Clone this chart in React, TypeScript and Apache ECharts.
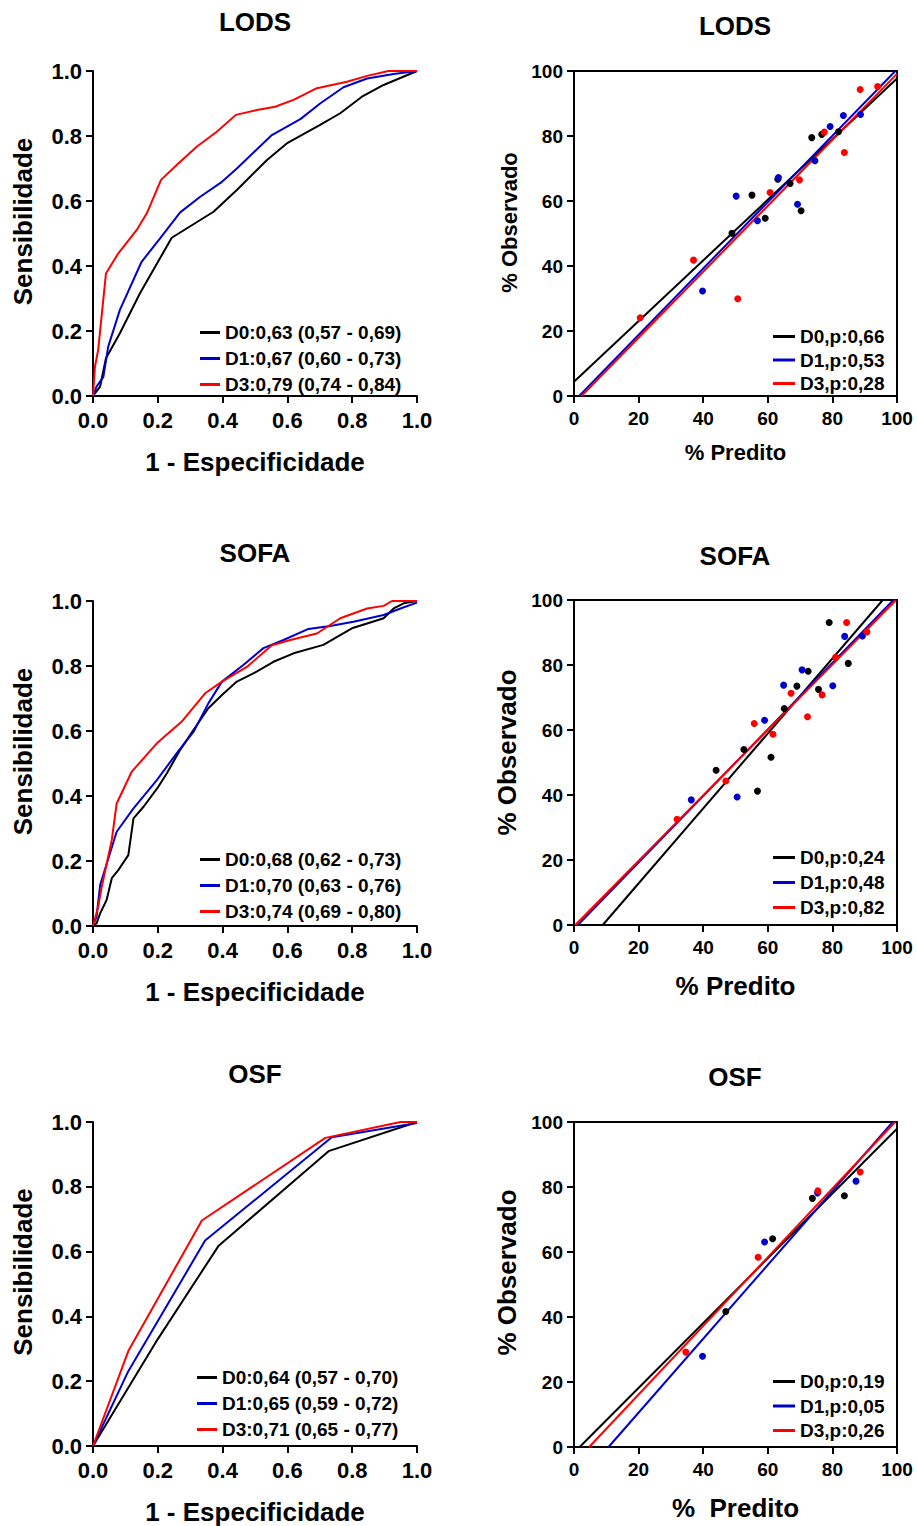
import React, { useEffect, useRef } from "react";
import * as echarts from "echarts";

const FONT = 'Arial, "Liberation Sans", Helvetica, sans-serif';
const BLACK = "#000000";
const BLUE = "#0000cc";
const RED = "#ff0000";
const groupColors = [BLACK, BLUE, RED];

const panelTitles = ["LODS", "SOFA", "OSF"];

// ROC axis ticks
const rocMin = 0;
const rocMax = 1;
const rocInterval = 0.2;
// Calibration axis ticks
const calMin = 0;
const calMax = 100;
const calInterval = 20;

// ---------- ROC curves: [1 - especificidade, sensibilidade] ----------
const lodsRocD0 = [
  [0, 0], [0.022, 0.029], [0.04, 0.116], [0.083, 0.193], [0.145, 0.316], [0.243, 0.487],
  [0.372, 0.567], [0.444, 0.634], [0.537, 0.726], [0.598, 0.777], [0.701, 0.834],
  [0.763, 0.87], [0.83, 0.921], [0.897, 0.957], [1, 1],
];
const lodsRocD1 = [
  [0, 0], [0.011, 0.029], [0.032, 0.059], [0.047, 0.152], [0.083, 0.265], [0.15, 0.413],
  [0.207, 0.485], [0.269, 0.565], [0.331, 0.613], [0.398, 0.659], [0.444, 0.7],
  [0.552, 0.803], [0.64, 0.852], [0.701, 0.9], [0.773, 0.95], [0.846, 0.977],
  [0.928, 0.991], [1, 1],
];
const lodsRocD3 = [
  [0, 0], [0.006, 0.09], [0.016, 0.142], [0.04, 0.377], [0.078, 0.439], [0.135, 0.511],
  [0.166, 0.562], [0.21, 0.665], [0.264, 0.716], [0.32, 0.767], [0.382, 0.813],
  [0.441, 0.865], [0.506, 0.88], [0.562, 0.89], [0.619, 0.911], [0.691, 0.947],
  [0.784, 0.967], [0.846, 0.985], [0.912, 1], [1, 1],
];

const sofaRocD0 = [
  [0, 0], [0.011, 0.008], [0.022, 0.039], [0.042, 0.08], [0.058, 0.147], [0.078, 0.172],
  [0.109, 0.218], [0.125, 0.331], [0.156, 0.367], [0.202, 0.429], [0.228, 0.47],
  [0.269, 0.542], [0.31, 0.603], [0.356, 0.67], [0.398, 0.711], [0.444, 0.752],
  [0.495, 0.777], [0.557, 0.813], [0.619, 0.839], [0.711, 0.865], [0.799, 0.916],
  [0.846, 0.931], [0.897, 0.947], [0.928, 0.977], [0.959, 0.993], [1, 1],
];
const sofaRocD1 = [
  [0, 0], [0.011, 0.029], [0.022, 0.126], [0.073, 0.29], [0.125, 0.362], [0.197, 0.449],
  [0.258, 0.531], [0.31, 0.597], [0.356, 0.685], [0.398, 0.752], [0.464, 0.803],
  [0.526, 0.855], [0.588, 0.88], [0.665, 0.914], [0.732, 0.923], [0.804, 0.936],
  [0.897, 0.957], [0.949, 0.977], [1, 0.995],
];
const sofaRocD3 = [
  [0, 0], [0.016, 0.059], [0.027, 0.121], [0.058, 0.265], [0.073, 0.377], [0.119, 0.474],
  [0.197, 0.562], [0.274, 0.629], [0.346, 0.716], [0.398, 0.752], [0.475, 0.797],
  [0.552, 0.864], [0.609, 0.88], [0.691, 0.9], [0.763, 0.947], [0.846, 0.977],
  [0.897, 0.985], [0.923, 1], [1, 1],
];

const osfRocD0 = [[0, 0], [0.2, 0.33], [0.387, 0.617], [0.727, 0.91], [1, 1]];
const osfRocD1 = [[0, 0], [0.109, 0.231], [0.346, 0.634], [0.737, 0.953], [1, 0.997]];
const osfRocD3 = [[0, 0], [0.109, 0.293], [0.336, 0.696], [0.717, 0.951], [0.949, 1], [1, 1]];

const rocLegend = [
  ["D0:0,63 (0,57 - 0,69)", "D1:0,67 (0,60 - 0,73)", "D3:0,79 (0,74 - 0,84)"],
  ["D0:0,68 (0,62 - 0,73)", "D1:0,70 (0,63 - 0,76)", "D3:0,74 (0,69 - 0,80)"],
  ["D0:0,64 (0,57 - 0,70)", "D1:0,65 (0,59 - 0,72)", "D3:0,71 (0,65 - 0,77)"],
];

// ---------- Calibration: [% predito, % observado] ----------
const lodsCalD0Pts = [
  [48.9, 50.1], [55.1, 61.8], [59.2, 54.7], [63.1, 66.7], [66.9, 65.4], [70.3, 57.0],
  [73.6, 79.5], [76.7, 80.5], [81.9, 81.3],
];
const lodsCalD1Pts = [
  [39.8, 32.3], [50.2, 61.5], [56.8, 53.9], [63.3, 67.2], [69.2, 59.0], [74.6, 72.4],
  [79.3, 82.9], [83.4, 86.3], [88.7, 86.6],
];
const lodsCalD3Pts = [
  [20.5, 24.1], [37.0, 41.8], [50.7, 29.9], [60.7, 62.6], [69.8, 66.5], [77.5, 81.2],
  [83.7, 74.9], [88.6, 94.3], [94.0, 95.2],
];
const lodsCalD0Line = [[0, 4.4], [100, 97.7]];
const lodsCalD1Line = [[1.6, 0], [99.5, 100]];
const lodsCalD3Line = [[2.3, 0], [100, 99.1]];

const sofaCalD0Pts = [
  [44.0, 47.6], [52.6, 54.0], [56.8, 41.2], [61.0, 51.6], [65.1, 66.6], [69.0, 73.5],
  [72.5, 78.1], [75.7, 72.5], [79.0, 93.1], [84.9, 80.5],
];
const sofaCalD1Pts = [
  [36.3, 38.5], [50.5, 39.4], [59.0, 63.0], [64.9, 73.8], [70.6, 78.5], [80.1, 73.6],
  [83.8, 88.8], [89.3, 88.9],
];
const sofaCalD3Pts = [
  [31.9, 32.5], [47.0, 44.3], [55.8, 62.0], [61.6, 58.7], [67.2, 71.3], [72.3, 64.1],
  [76.8, 70.8], [81.0, 82.4], [84.4, 93.1], [90.7, 90.2],
];
const sofaCalD0Line = [[8.9, 0], [95.6, 100]];
const sofaCalD1Line = [[1.2, 0], [98.9, 100]];
const sofaCalD3Line = [[0.4, 0], [99.7, 100]];

const osfCalD0Pts = [[47.0, 41.7], [61.5, 64.1], [73.8, 76.5], [83.7, 77.3]];
const osfCalD1Pts = [[39.8, 27.9], [59.0, 63.1], [75.4, 78.2], [87.3, 81.8]];
const osfCalD3Pts = [[34.6, 29.2], [57.0, 58.4], [75.5, 78.8], [88.6, 84.6]];
const osfCalD0Line = [[1.75, 0], [100, 97.9]];
const osfCalD1Line = [[10.7, 0], [98.7, 100]];
const osfCalD3Line = [[4.7, 0], [99.4, 100]];

const calLegend = [
  ["D0,p:0,66", "D1,p:0,53", "D3,p:0,28"],
  ["D0,p:0,24", "D1,p:0,48", "D3,p:0,82"],
  ["D0,p:0,19", "D1,p:0,05", "D3,p:0,26"],
];

const rocAxisTitleX = "1 - Especificidade";
const rocAxisTitleY = "Sensibilidade";
const calAxisTitleX = ["% Predito", "% Predito", "%  Predito"];
const calAxisTitleY = "% Observado";

const rocCurves = [
  [lodsRocD0, lodsRocD1, lodsRocD3],
  [sofaRocD0, sofaRocD1, sofaRocD3],
  [osfRocD0, osfRocD1, osfRocD3],
];
const calPoints = [
  [lodsCalD0Pts, lodsCalD1Pts, lodsCalD3Pts],
  [sofaCalD0Pts, sofaCalD1Pts, sofaCalD3Pts],
  [osfCalD0Pts, osfCalD1Pts, osfCalD3Pts],
];
const calLines = [
  [lodsCalD0Line, lodsCalD1Line, lodsCalD3Line],
  [sofaCalD0Line, sofaCalD1Line, sofaCalD3Line],
  [osfCalD0Line, osfCalD1Line, osfCalD3Line],
];

// ---------- Layout ----------
const rocTops = [71, 601, 1122];
const calTops = [71, 600, 1122];
const rocTitleY = [22, 553, 1074];
const calTitleY = [26, 556, 1077];
const rocLegendTop = [323, 850, 1368];
const calLegendTop = [327, 848, 1372];
const calNameSize = [22, 26, 26];
const calXNameGap = [45, 48, 48];
const calYNameGap = [54, 54, 54];
const calYNameShift = [22, 20, 24];
const calLegendGap = [4.5, 6, 5.5];

function buildOption() {
  const grid: any[] = [];
  const xAxis: any[] = [];
  const yAxis: any[] = [];
  const series: any[] = [];
  const legend: any[] = [];
  const graphic: any[] = [];

  const axisLine = { show: true, onZero: false, lineStyle: { color: BLACK, width: 2 } };
  const axisTick = { show: true, length: 7, lineStyle: { color: BLACK, width: 2 } };
  const lblBase = { color: BLACK, fontWeight: "bold", fontFamily: FONT };

  for (let p = 0; p < 3; p++) {
    // ROC
    const rg = grid.length;
    grid.push({ left: 93, top: rocTops[p], width: 324, height: 325 });
    xAxis.push({
      gridIndex: rg, type: "value", min: rocMin, max: rocMax, interval: rocInterval,
      axisLine, axisTick, splitLine: { show: false },
      axisLabel: { ...lblBase, fontSize: 22, margin: 13, formatter: (v: number) => v.toFixed(1) },
      name: rocAxisTitleX, nameLocation: "middle", nameGap: 53,
      nameTextStyle: { ...lblBase, fontSize: 26 },
    });
    yAxis.push({
      gridIndex: rg, type: "value", min: rocMin, max: rocMax, interval: rocInterval,
      axisLine, axisTick, splitLine: { show: false },
      axisLabel: { ...lblBase, fontSize: 22, margin: 11, formatter: (v: number) => v.toFixed(1) },
      name: rocAxisTitleY, nameLocation: "middle", nameGap: 57,
      nameTextStyle: { ...lblBase, fontSize: 26, padding: [0, 0, 0, 24] },
    });
    for (let g = 0; g < 3; g++) {
      series.push({
        type: "line", name: rocLegend[p][g], xAxisIndex: rg, yAxisIndex: rg,
        data: rocCurves[p][g], showSymbol: false, symbol: "none",
        lineStyle: { color: groupColors[g], width: 2 }, itemStyle: { color: groupColors[g] },
        z: 2 + g,
      });
    }
    legend.push({
      orient: "vertical", left: p === 2 ? 197 : 200, top: rocLegendTop[p], padding: 0,
      itemWidth: 20, itemHeight: 3, itemGap: 7, icon: "rect", selectedMode: false,
      data: rocLegend[p],
      textStyle: { ...lblBase, fontSize: 19, lineHeight: 19 },
    });
    graphic.push({
      type: "text", x: 255, y: rocTitleY[p],
      style: { text: panelTitles[p], align: "center", verticalAlign: "middle", fontSize: 26, fontWeight: "bold", fontFamily: FONT, fill: BLACK },
    });

    // Calibration
    const cg = grid.length;
    grid.push({ left: 574, top: calTops[p], width: 323, height: 325, show: true, borderColor: BLACK, borderWidth: 2, backgroundColor: "transparent" });
    xAxis.push({
      gridIndex: cg, type: "value", min: calMin, max: calMax, interval: calInterval,
      axisLine, axisTick, splitLine: { show: false },
      axisLabel: { ...lblBase, fontSize: 19, margin: 13 },
      name: calAxisTitleX[p], nameLocation: "middle", nameGap: calXNameGap[p],
      nameTextStyle: { ...lblBase, fontSize: calNameSize[p] },
    });
    yAxis.push({
      gridIndex: cg, type: "value", min: calMin, max: calMax, interval: calInterval,
      axisLine, axisTick, splitLine: { show: false },
      axisLabel: { ...lblBase, fontSize: 19, margin: 11 },
      name: calAxisTitleY, nameLocation: "middle", nameGap: calYNameGap[p],
      nameTextStyle: { ...lblBase, fontSize: calNameSize[p], padding: [0, 0, 0, calYNameShift[p]] },
    });
    for (let g = 0; g < 3; g++) {
      series.push({
        type: "line", name: calLegend[p][g], xAxisIndex: cg, yAxisIndex: cg,
        data: calLines[p][g], showSymbol: false, symbol: "none",
        lineStyle: { color: groupColors[g], width: 2 }, itemStyle: { color: groupColors[g] },
        z: 2,
      });
    }
    for (let g = 0; g < 3; g++) {
      series.push({
        type: "scatter", name: panelTitles[p] + " pontos " + g, xAxisIndex: cg, yAxisIndex: cg,
        data: calPoints[p][g], symbol: "circle", symbolSize: 7,
        itemStyle: { color: groupColors[g], opacity: 1 }, z: 4,
      });
    }
    legend.push({
      orient: "vertical", left: 773, top: calLegendTop[p], padding: 0,
      itemWidth: 22, itemHeight: 3, itemGap: calLegendGap[p], icon: "rect", selectedMode: false,
      data: calLegend[p],
      textStyle: { ...lblBase, fontSize: 19, lineHeight: 19 },
    });
    graphic.push({
      type: "text", x: 735, y: calTitleY[p],
      style: { text: panelTitles[p], align: "center", verticalAlign: "middle", fontSize: 26, fontWeight: "bold", fontFamily: FONT, fill: BLACK },
    });
  }

  return {
    animation: false,
    backgroundColor: "#ffffff",
    textStyle: { fontFamily: FONT },
    grid, xAxis, yAxis, series, legend, graphic,
  };
}

export default function App() {
  const ref = useRef<HTMLDivElement>(null);
  useEffect(() => {
    if (!ref.current) return;
    const chart = echarts.init(ref.current, undefined, { renderer: "svg" });
    chart.setOption(buildOption() as any);
    return () => chart.dispose();
  }, []);
  return (
    <div
      ref={ref}
      style={{ position: "absolute", left: 0, top: 0, width: 917, height: 1526, background: "#fff" }}
    />
  );
}
